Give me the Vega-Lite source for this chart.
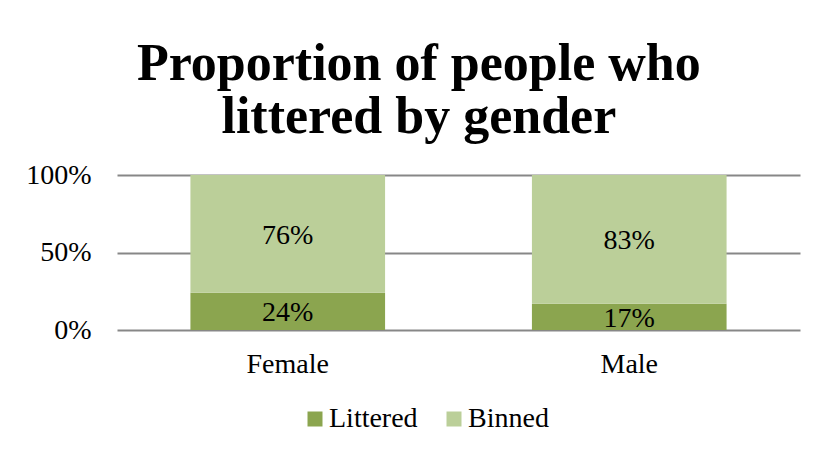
{
  "$schema": "https://vega.github.io/schema/vega-lite/v6.json",
  "width": 820,
  "height": 455,
  "autosize": {"type": "fit", "contains": "padding"},
  "padding": {"left": 25, "right": 20, "top": 38, "bottom": 77},
  "background": "white",
  "title": {
    "text": ["Proportion of people who", "littered by gender"],
    "font": "Liberation Serif",
    "fontSize": 52,
    "fontWeight": "bold",
    "color": "black",
    "lineHeight": 53,
    "offset": 17,
    "anchor": "middle",
    "frame": "bounds",
    "dx": 6
  },
  "data": {
    "values": [
      {"gender": "Female", "outcome": "Littered", "share": 0.24, "rank": 1},
      {"gender": "Female", "outcome": "Binned", "share": 0.76, "rank": 2},
      {"gender": "Male", "outcome": "Littered", "share": 0.17, "rank": 1},
      {"gender": "Male", "outcome": "Binned", "share": 0.83, "rank": 2}
    ]
  },
  "transform": [
    {"stack": "share", "groupby": ["gender"], "sort": [{"field": "rank", "order": "ascending"}], "as": ["y0", "y1"]},
    {"calculate": "(datum.y0 + datum.y1) / 2", "as": "ymid"}
  ],
  "encoding": {
    "x": {
      "field": "gender",
      "type": "nominal",
      "sort": ["Female", "Male"],
      "scale": {"paddingInner": 0.43, "paddingOuter": 0.215},
      "axis": {
        "title": null,
        "labelAngle": 0,
        "ticks": false,
        "domain": false,
        "labelPadding": 20,
        "labelFont": "Liberation Serif",
        "labelFontSize": 28,
        "labelColor": "black"
      }
    }
  },
  "layer": [
    {
      "mark": {"type": "bar"},
      "encoding": {
        "y": {
          "field": "y0",
          "type": "quantitative",
          "scale": {"domain": [0, 1]},
          "axis": {
            "title": null,
            "values": [0, 0.5, 1],
            "format": ".0%",
            "grid": true,
            "gridColor": "#878787",
            "gridWidth": 2,
            "domain": false,
            "ticks": false,
            "labelPadding": 26,
            "labelFont": "Liberation Serif",
            "labelFontSize": 28,
            "labelColor": "black"
          }
        },
        "y2": {"field": "y1"},
        "color": {
          "field": "outcome",
          "type": "nominal",
          "sort": ["Littered", "Binned"],
          "scale": {"domain": ["Littered", "Binned"], "range": ["#8BA54F", "#BBCF99"]},
          "legend": {
            "title": null,
            "orient": "none",
            "legendX": 184,
            "legendY": 230,
            "direction": "horizontal",
            "symbolType": "square",
            "symbolSize": 225,
            "symbolStrokeWidth": 0,
            "labelFont": "Liberation Serif",
            "labelFontSize": 28,
            "labelColor": "black",
            "columnPadding": 22,
            "labelOffset": 0
          }
        }
      }
    },
    {
      "mark": {"type": "text", "font": "Liberation Serif", "fontSize": 28, "color": "black", "baseline": "middle", "dy": 2},
      "encoding": {
        "y": {"field": "ymid", "type": "quantitative"},
        "text": {"field": "share", "type": "quantitative", "format": ".0%"},
        "detail": {"field": "outcome"}
      }
    }
  ],
  "config": {
    "view": {"stroke": null}
  }
}
